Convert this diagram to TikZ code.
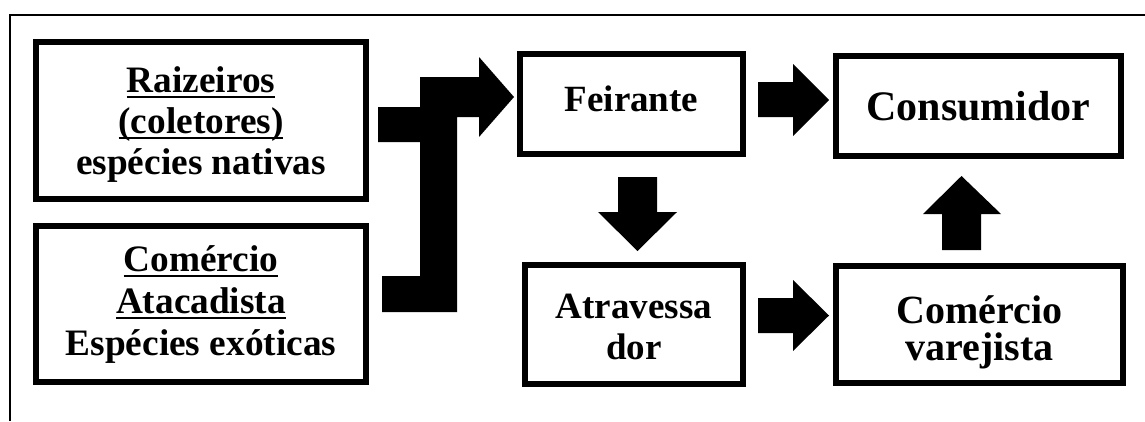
\documentclass[tikz,border=0pt]{standalone}
\usepackage{fontspec}
\setmainfont{Liberation Serif}
% thick underline placed a little below the baseline
\newcommand{\thickul}[1]{\setbox0\hbox{#1}\rlap{\rule[-5.5pt]{\wd0}{2.4pt}}\box0}
\begin{document}
\begin{tikzpicture}[x=1pt,y=-1pt,
  box/.style={draw=black,line width=6pt,fill=white,inner sep=0pt},
  txt/.style={inner sep=0pt,align=center,font=\bfseries},
  blockarrow/.style={fill=black,draw=none},
  frame/.style={draw=black,line width=2pt}]
\useasboundingbox (0,0) rectangle (1145,421);

% outer frame (top and left edges)
\draw[frame] (10,421) -- (10,15) -- (1145,15);

% boxes
\node[box,minimum width=330pt,minimum height=157pt] (raiz) at (201,120.5) {};
\node[box,minimum width=330pt,minimum height=156pt] (atac) at (201,304) {};
\node[box,minimum width=223pt,minimum height=100pt] (feir) at (631.5,104) {};
\node[box,minimum width=285pt,minimum height=100pt] (cons) at (978.5,106) {};
\node[box,minimum width=218pt,minimum height=119pt] (atra) at (634,324.5) {};
\node[box,minimum width=287pt,minimum height=117pt] (vare) at (979.5,324.5) {};

% box texts
\node[txt,font=\bfseries\fontsize{37.3}{41}\selectfont] (raiz-t) at (201,124.5)
  {\thickul{Raizeiros}\\\thickul{(coletores)}\\espécies nativas};
\node[txt,font=\bfseries\fontsize{37.3}{42}\selectfont] (atac-t) at (201,305)
  {\thickul{Comércio}\\\thickul{Atacadista}\\Espécies exóticas};
\node[txt,font=\bfseries\fontsize{37}{41}\selectfont] (feir-t) at (631.5,99) {Feirante};
\node[txt,font=\bfseries\fontsize{42}{46}\selectfont] (cons-t) at (978.5,106) {Consumidor};
\node[txt,font=\bfseries\fontsize{37}{41}\selectfont] (atra-t) at (634,327) {Atravessa\\dor};
\node[txt,font=\bfseries\fontsize{40}{37}\selectfont] (vare-t) at (979.5,332) {Comércio\\varejista};

% bent block arrow joining both sources into Feirante
\fill[blockarrow] (378,107) -- (420,107) -- (420,77) -- (479,77) -- (479,57)
  -- (514,97) -- (479,137) -- (479,117) -- (457,117) -- (457,312) -- (382,312)
  -- (382,276) -- (420,276) -- (420,142) -- (378,142) -- cycle;

% Feirante -> Consumidor
\fill[blockarrow] (758,82) -- (793,82) -- (793,64) -- (829,100) -- (793,136)
  -- (793,117) -- (758,117) -- cycle;
% Atravessador -> Comercio varejista
\fill[blockarrow] (758,298) -- (793,298) -- (793,280) -- (829,315.5) -- (793,351)
  -- (793,333) -- (758,333) -- cycle;
% Feirante -> Atravessador
\fill[blockarrow] (618,177) -- (657,177) -- (657,212) -- (677,212) -- (637.5,251)
  -- (598,212) -- (618,212) -- cycle;
% Comercio varejista -> Consumidor
\fill[blockarrow] (942,250) -- (981,250) -- (981,214) -- (1001,214) -- (961.5,176)
  -- (923,214) -- (942,214) -- cycle;
\end{tikzpicture}
\end{document}
